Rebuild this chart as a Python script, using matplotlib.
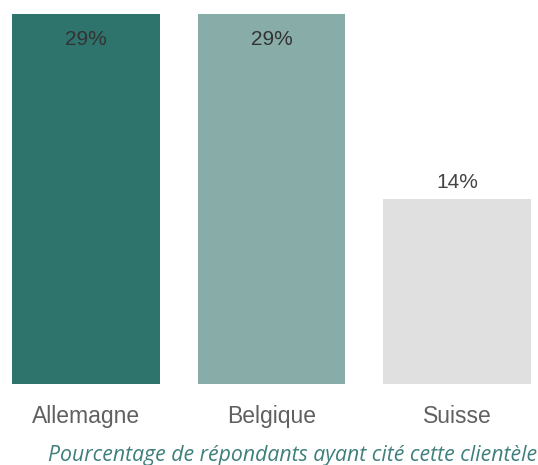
import matplotlib
matplotlib.use("Agg")
import matplotlib.pyplot as plt

categories = ["Allemagne", "Belgique", "Suisse"]
values = [28.6, 28.6, 14.3]
labels = ["29%", "29%", "14%"]
colors = ["#2e746c", "#88aca8", "#e0e0e0"]
inside = [True, True, False]

fig = plt.figure(figsize=(5.38, 4.65), dpi=100)
ax = fig.add_axes([0, (465 - 384) / 465, 1, (384 - 14) / 465])
x = list(range(len(categories)))
bars = ax.bar(x, values, width=0.796, color=colors)
ax.set_xlim(-0.463, 2.436)
ax.set_ylim(0, max(values))
for s in ax.spines.values():
    s.set_visible(False)
ax.set_yticks([])
ax.set_xticks(x)
ax.set_xticklabels(categories, fontsize=16.5, color="#606060", family="Liberation Sans")
ax.tick_params(axis="x", length=0, pad=15)

for xi, v, lab, ins in zip(x, values, labels, inside):
    if ins:
        ax.annotate(lab, (xi, v), xytext=(0, -25 * 0.72), textcoords="offset points",
                    ha="center", va="center", fontsize=15, color="#333333", family="Liberation Sans")
    else:
        ax.annotate(lab, (xi, v), xytext=(0, 17 * 0.72), textcoords="offset points",
                    ha="center", va="center", fontsize=15, color="#444444", family="Liberation Sans")

fig.text(537 / 538, 1 - 455 / 465, "Pourcentage de répondants ayant cité cette clientèle",
         ha="right", va="center", fontsize=15.3, style="italic", color="#3f7f7c", family="Open Sans")

fig.savefig("out.png", dpi=100)
